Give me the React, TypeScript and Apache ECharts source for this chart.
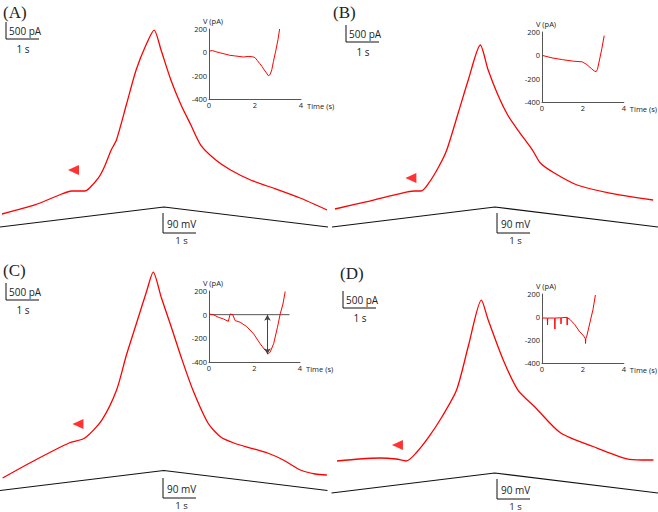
import React, { useEffect, useRef } from "react";
import * as echarts from "echarts";

// ---- data (time in s, current in pA, voltage in mV) ----
const rampTime = [0, 5, 10];
const rampMV = [-80, 10, -80];

const traceA: number[][] = [
  [0.06, 0], [1.06, 265], [1.88, 588], [2.18, 676], [2.58, 676], [2.73, 765], [3.0, 1059],
  [3.18, 1382], [3.39, 1882], [3.55, 2176], [3.85, 3205], [4.15, 4235], [4.45, 4970], [4.7, 5410],
  [4.91, 4822], [5.21, 3940], [5.52, 3205], [5.82, 2617], [6.12, 2029], [6.58, 1588], [7.03, 1294],
  [7.64, 1000], [8.24, 794], [9.15, 470], [9.97, 118],
];
const traceB: number[][] = [
  [0.09, 0], [1.15, 235], [2.15, 470], [2.52, 529], [2.73, 529], [2.97, 765], [3.27, 1235],
  [3.52, 1735], [3.88, 2853], [4.18, 3794], [4.55, 4823], [4.79, 4088], [5.09, 3353], [5.39, 2765],
  [5.7, 2323], [6.15, 1735], [6.39, 1353], [6.82, 1059], [7.52, 706], [8.52, 470], [9.85, 265],
];
const traceC: number[][] = [
  [0.08, 0], [1.08, 529], [2.11, 1029], [2.59, 1176], [3.11, 1705], [3.56, 2587], [3.86, 3617],
  [4.17, 4559], [4.47, 5470], [4.68, 6056], [4.92, 5323], [5.23, 4441], [5.53, 3559], [5.89, 2587],
  [6.35, 1617], [6.74, 1205], [7.14, 1029], [7.65, 882], [8.17, 735], [8.65, 529], [9.17, 235],
  [9.62, 118], [9.98, 88],
];
const traceD: number[][] = [
  [0.17, 0], [0.86, 59], [1.47, 88], [1.98, 59], [2.29, 0], [2.59, 235], [2.98, 706], [3.38, 1294],
  [3.83, 2087], [4.2, 3411], [4.59, 4734], [4.8, 4146], [5.26, 2970], [5.71, 2087], [6.23, 1588],
  [7.02, 823], [8.05, 412], [9.05, 59], [9.5, 29], [9.86, 29],
];

const insetA: number[][] = [
  [0, 10], [0.15, 15], [0.3, 5], [0.5, -5], [0.7, -15], [0.9, -25], [1.1, -30], [1.3, -35],
  [1.5, -40], [1.7, -35], [1.9, -38], [2.0, -45], [2.1, -70], [2.2, -95], [2.3, -120], [2.4, -150],
  [2.5, -177], [2.58, -200], [2.66, -190], [2.73, -150], [2.8, -80], [2.9, 10], [3.0, 110], [3.07, 200],
];
const insetB: number[][] = [
  [0, 0], [0.49, -22], [1.0, -37], [1.53, -50], [1.97, -56], [2.19, -79], [2.41, -113], [2.56, -135],
  [2.64, -141], [2.71, -121], [2.83, -23], [2.93, 62], [3.04, 169],
];
const insetC: number[][] = [
  [0, 5], [0.19, 0], [0.41, -22], [0.63, -36], [0.85, -56], [0.93, 6], [1.04, 0], [1.15, -50],
  [1.37, -64], [1.66, -101], [1.96, -162], [2.25, -246], [2.47, -302], [2.62, -330], [2.69, -316],
  [2.84, -246], [3.01, -106], [3.13, 6], [3.25, 90], [3.35, 196],
];
const insetD: number[][] = [
  [0, -9], [0.26, -9], [0.27, -70], [0.28, -9], [0.62, -9], [0.63, -105], [0.64, -9], [0.92, -7],
  [0.93, -60], [0.94, -7], [1.22, -3], [1.23, -70], [1.24, -5], [1.38, -23], [1.6, -66], [1.82, -123],
  [2.04, -166], [2.12, -189], [2.13, -230], [2.14, -189], [2.19, -166], [2.34, -51], [2.49, 63], [2.61, 191],
];
const zeroLineC: number[][] = [[0, 0], [3.54, 0]];
const arrowC: number[][] = [[2.57, 0], [2.57, -335]];
const markerPoints: number[][] = [[2.24, 1294], [2.42, 912], [2.38, 1588], [2.02, 471]];

const insetYMin = -400;
const insetYMax = 200;
const insetYStep = 200;
const insetXMin = 0;
const insetXMax = 4;
const insetXStep = 2;

const panelLabels = ["(A)", "(B)", "(C)", "(D)"];
const currentBar = "500 pA";
const voltageBar = "90 mV";
const timeBar = "1 s";

// ---- layout ----
const PX_PER_S = 33;
const PX_PER_PA = 17 / 500;
const RAMP_PX = 20; // pixel height of the 90 mV ramp
const GRID_H = 250;

const panels = [
  { x0: -2, top: 0, yStart: 214, rampBase: 227 },
  { x0: 332, top: 0, yStart: 209, rampBase: 227 },
  { x0: -2.5, top: 258, yStart: 478, rampBase: 490.5 },
  { x0: 331.5, top: 258, yStart: 461, rampBase: 493 },
];
const insetBoxes = [
  { left: 209, top: 29, width: 92, height: 70 },
  { left: 542, top: 32, width: 90, height: 70 },
  { left: 209, top: 291, width: 91, height: 71 },
  { left: 542, top: 294, width: 90, height: 69 },
];
const labelPos = [
  { lx: 3, ly: 12, bx: 6, by: 22 },
  { lx: 333, ly: 12, bx: 346, by: 25 },
  { lx: 3, ly: 270, bx: 6, by: 283 },
  { lx: 340, ly: 273, bx: 343, by: 291 },
];
const vBarPos = [
  { x: 163, y: 213 },
  { x: 497, y: 213 },
  { x: 163, y: 478 },
  { x: 497, y: 479 },
];

const traces = [traceA, traceB, traceC, traceD];
const insets = [insetA, insetB, insetC, insetD];
const RED = "#ff0000";
const FONT = "'Open Sans', 'Liberation Sans', sans-serif";

function buildOption() {
  const grid: any[] = [];
  const xAxis: any[] = [];
  const yAxis: any[] = [];
  const series: any[] = [];
  const graphic: any[] = [];

  // grids 0-3: current traces; 4-7: voltage ramps; 8-11: insets
  panels.forEach((p) => {
    grid.push({ left: p.x0, top: p.top, width: 10 * PX_PER_S, height: GRID_H });
  });
  panels.forEach((p) => {
    grid.push({ left: p.x0, top: p.rampBase - RAMP_PX, width: 10 * PX_PER_S, height: RAMP_PX });
  });
  insetBoxes.forEach((b) => grid.push({ ...b }));

  for (let g = 0; g < 8; g++) {
    xAxis.push({ type: "value", gridIndex: g, min: 0, max: 10, show: false });
  }
  insetBoxes.forEach((_, i) => {
    xAxis.push({
      type: "value", gridIndex: 8 + i, min: insetXMin, max: insetXMax, interval: insetXStep,
      axisLine: { show: true, onZero: false, lineStyle: { color: "#555", width: 1 } },
      axisTick: { show: false }, splitLine: { show: false },
      axisLabel: { fontSize: 7.5, color: "#222", margin: 2, fontFamily: FONT },
      name: "Time (s)", nameLocation: "end", nameGap: 2,
      nameTextStyle: { fontSize: 7.5, color: "#222", fontFamily: FONT, align: "left", verticalAlign: "top", padding: [3, 0, 0, 0] },
    });
  });
  panels.forEach((p, i) => {
    const bottom = p.top + GRID_H;
    const min = -(bottom - p.yStart) / PX_PER_PA;
    yAxis.push({ type: "value", gridIndex: i, min, max: min + GRID_H / PX_PER_PA, show: false });
  });
  panels.forEach((_, i) => {
    yAxis.push({ type: "value", gridIndex: 4 + i, min: Math.min(...rampMV), max: Math.max(...rampMV), show: false });
  });
  insetBoxes.forEach((_, i) => {
    yAxis.push({
      type: "value", gridIndex: 8 + i, min: insetYMin, max: insetYMax, interval: insetYStep,
      axisLine: { show: true, onZero: false, lineStyle: { color: "#555", width: 1 } },
      axisTick: { show: false }, splitLine: { show: false },
      axisLabel: { fontSize: 7.5, color: "#222", margin: 2, fontFamily: FONT },
      name: "V (pA)", nameLocation: "end", nameGap: 3,
      nameTextStyle: { fontSize: 7.5, color: "#222", fontFamily: FONT, align: "center", padding: [0, 0, 0, 8] },
    });
  });

  panels.forEach((_, i) => {
    series.push({
      type: "line", xAxisIndex: i, yAxisIndex: i, data: traces[i], showSymbol: false, smooth: 0.25,
      lineStyle: { color: RED, width: 1.3 }, z: 3,
    });
    series.push({
      type: "line", xAxisIndex: 4 + i, yAxisIndex: 4 + i, clip: false,
      data: rampTime.map((t, k) => [t, rampMV[k]]), showSymbol: false,
      lineStyle: { color: "#111", width: 1.1 }, z: 2,
    });
    series.push({
      type: "scatter", xAxisIndex: i, yAxisIndex: i, data: [markerPoints[i]],
      symbol: "triangle", symbolRotate: 90, symbolSize: [10, 11], itemStyle: { color: RED }, z: 4,
    });
    series.push({
      type: "line", xAxisIndex: 8 + i, yAxisIndex: 8 + i, data: insets[i], showSymbol: false,
      lineStyle: { color: RED, width: 1 }, z: 3,
    });
    if (i === 2) {
      series.push({
        type: "line", xAxisIndex: 10, yAxisIndex: 10, data: zeroLineC, showSymbol: false,
        lineStyle: { color: "#555", width: 1 }, z: 2,
        markLine: {
          silent: true, symbol: ["arrow", "arrow"], symbolSize: [5, 6],
          lineStyle: { color: "#444", width: 1, type: "solid" }, label: { show: false },
          data: [[{ coord: arrowC[0] }, { coord: arrowC[1] }]],
        },
      });
    }
  });

  const line = (x1: number, y1: number, x2: number, y2: number) => ({
    type: "line", shape: { x1, y1, x2, y2 }, style: { stroke: "#111", lineWidth: 1 }, silent: true,
  });
  const text = (t: string, x: number, y: number, align: string, size: number, family: string) => ({
    type: "text", x, y, silent: true,
    style: { text: t, fill: "#222", fontSize: size, fontFamily: family, align, verticalAlign: "middle" },
  });

  labelPos.forEach((l, i) => {
    graphic.push(text(panelLabels[i], l.lx, l.ly, "left", 17, "'Liberation Serif', 'Times New Roman', serif"));
    const h = 500 * PX_PER_PA;
    const w = PX_PER_S;
    graphic.push(line(l.bx, l.by, l.bx, l.by + h));
    graphic.push(line(l.bx, l.by + h, l.bx + w, l.by + h));
    graphic.push(text(currentBar, l.bx + 3, l.by + h / 2 + 0.5, "left", 10, FONT));
    graphic.push(text(timeBar, l.bx + w / 2 + 0.5, l.by + h + 10, "center", 10, FONT));
  });
  vBarPos.forEach((v) => {
    const h = RAMP_PX;
    const w = PX_PER_S;
    graphic.push(line(v.x, v.y, v.x, v.y + h));
    graphic.push(line(v.x, v.y + h, v.x + w, v.y + h));
    graphic.push(text(voltageBar, v.x + 4, v.y + h / 2 + 1, "left", 10, FONT));
    graphic.push(text(timeBar, v.x + w / 2 + 2, v.y + h + 7, "center", 9.5, FONT));
  });

  return {
    animation: false,
    backgroundColor: "#ffffff",
    textStyle: { fontFamily: FONT },
    grid, xAxis, yAxis, series, graphic,
  };
}

export default function App() {
  const ref = useRef<HTMLDivElement>(null);
  useEffect(() => {
    if (!ref.current) return;
    const chart = echarts.init(ref.current, undefined, { renderer: "svg" });
    chart.setOption(buildOption() as any);
    return () => chart.dispose();
  }, []);
  return (
    <div
      ref={ref}
      style={{ position: "fixed", left: 0, top: 0, width: 658, height: 512, background: "#fff" }}
    />
  );
}
